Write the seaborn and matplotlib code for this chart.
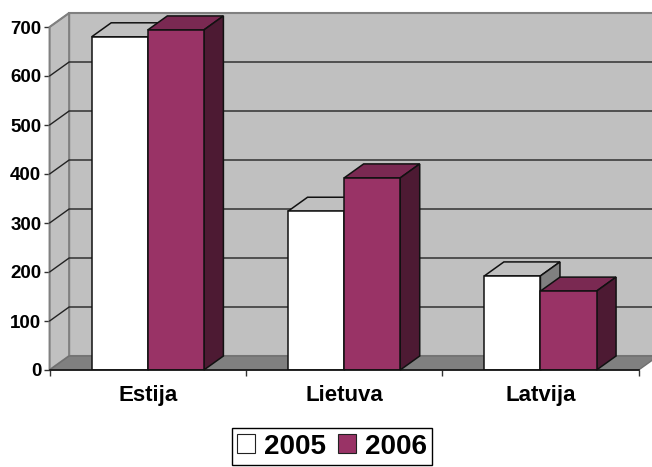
import matplotlib
matplotlib.use("Agg")
import matplotlib.pyplot as plt
from matplotlib.patches import Polygon
import pandas as pd
import seaborn as sns

categories = ["Estija", "Lietuva", "Latvija"]
series_names = ["2005", "2006"]
values_2005 = [680, 324, 192]
values_2006 = [694, 392, 161]
y_ticks = [0, 100, 200, 300, 400, 500, 600, 700]

sns.set_theme(style="white")
plt.rcParams["font.family"] = ["Liberation Sans", "DejaVu Sans"]
plt.rcParams["font.weight"] = "bold"

W, H = 652, 467
fig = plt.figure(figsize=(W / 100, H / 100), dpi=100, facecolor="white")
L, R, T, B = 49.6, 638.6, 27, 370
ax = fig.add_axes([L / W, 1 - B / H, (R - L) / W, (B - T) / H], facecolor="none")

df = pd.DataFrame({
    "country": categories * 2,
    "year": [series_names[0]] * 3 + [series_names[1]] * 3,
    "value": values_2005 + values_2006,
})
face = {"2005": "#FFFFFF", "2006": "#993366"}
top_col = {"2005": "#C0C0C0", "2006": "#7A2952"}
side_col = {"2005": "#808080", "2006": "#4D1A33"}
bar_w = 56 / 196
sns.barplot(data=df, x="country", y="value", hue="year", hue_order=series_names,
            palette=face, width=2 * bar_w, gap=0, dodge=True, ax=ax,
            edgecolor="#111111", linewidth=1.1, zorder=6, legend=False, saturation=1)

ax.set_xlim(-0.5, 2.5)
ax.set_ylim(0, 700)
dx = 19.5 / 196
dy = 14 / 0.49


def poly(pts, fc, ec, lw=1.0, z=1):
    ax.add_patch(Polygon(pts, closed=True, facecolor=fc, edgecolor=ec, linewidth=lw,
                         zorder=z, clip_on=False, joinstyle="miter"))


x0, x1, y0, y1 = -0.5, 2.5, 0, 700
poly([(x0 + dx, y0 + dy), (x1 + dx, y0 + dy), (x1 + dx, y1 + dy), (x0 + dx, y1 + dy)], "#C0C0C0", "#808080", 1.5, 1)
poly([(x0, y0), (x0 + dx, y0 + dy), (x0 + dx, y1 + dy), (x0, y1)], "#C0C0C0", "#808080", 1.5, 1.1)
poly([(x0, y0), (x1, y0), (x1 + dx, y0 + dy), (x0 + dx, y0 + dy)], "#808080", "#707070", 1.0, 1.2)

for t in y_ticks[1:-1]:
    ax.plot([x0, x0 + dx, x1 + dx], [t, t + dy, t + dy], color="#222222", lw=1.0,
            zorder=1.5, clip_on=False, solid_joinstyle="miter")
ax.plot([x0, x0 + dx], [700, 700 + dy], color="#808080", lw=1.0, zorder=1.5, clip_on=False)

for j, (name, vals) in enumerate(zip(series_names, [values_2005, values_2006])):
    z = 3 + j * 0.5
    for i, v in enumerate(vals):
        a = i - bar_w + j * bar_w
        b = a + bar_w
        poly([(a, v), (b, v), (b + dx, v + dy), (a + dx, v + dy)], top_col[name], "#111111", 1.1, z)
        poly([(b, 0), (b + dx, dy), (b + dx, v + dy), (b, v)], side_col[name], "#111111", 1.1, z)

ax.set_xlabel("")
ax.set_ylabel("")
ax.set_yticks(y_ticks)
ax.set_xticks([0, 1, 2])
ax.set_xticklabels(categories, fontsize=16, fontweight="bold", color="black")
ax.set_xticks([-0.5, 0.5, 1.5, 2.5], minor=True)
ax.tick_params(axis="x", which="major", length=0, pad=11)
ax.tick_params(axis="x", which="minor", length=4, width=1, color="#333333", bottom=True)
ax.tick_params(axis="y", length=4, width=1, color="#333333", labelsize=13.5, pad=2, left=True)
for lab in ax.get_yticklabels():
    lab.set_fontweight("bold")
    lab.set_color("black")
for s in ["top", "right"]:
    ax.spines[s].set_visible(False)
ax.spines["left"].set_visible(False)
ax.spines["bottom"].set_color("#111111")
ax.spines["bottom"].set_linewidth(1.2)
ax.spines["bottom"].set_zorder(7)

handles = [plt.Rectangle((0, 0), 1, 1, facecolor=face[n], edgecolor="#222222", linewidth=0.8) for n in series_names]
fig.legend(handles, series_names, ncol=2, loc="center",
           bbox_to_anchor=(332 / W, 1 - 446.5 / H), frameon=True, fancybox=False,
           edgecolor="black", facecolor="white", framealpha=1, labelcolor="black",
           prop={"size": 20, "weight": "bold"}, handlelength=0.65, handleheight=0.65,
           handletextpad=0.3, columnspacing=0.45, borderpad=0.2, borderaxespad=0)

fig.savefig("out.png", dpi=100)
